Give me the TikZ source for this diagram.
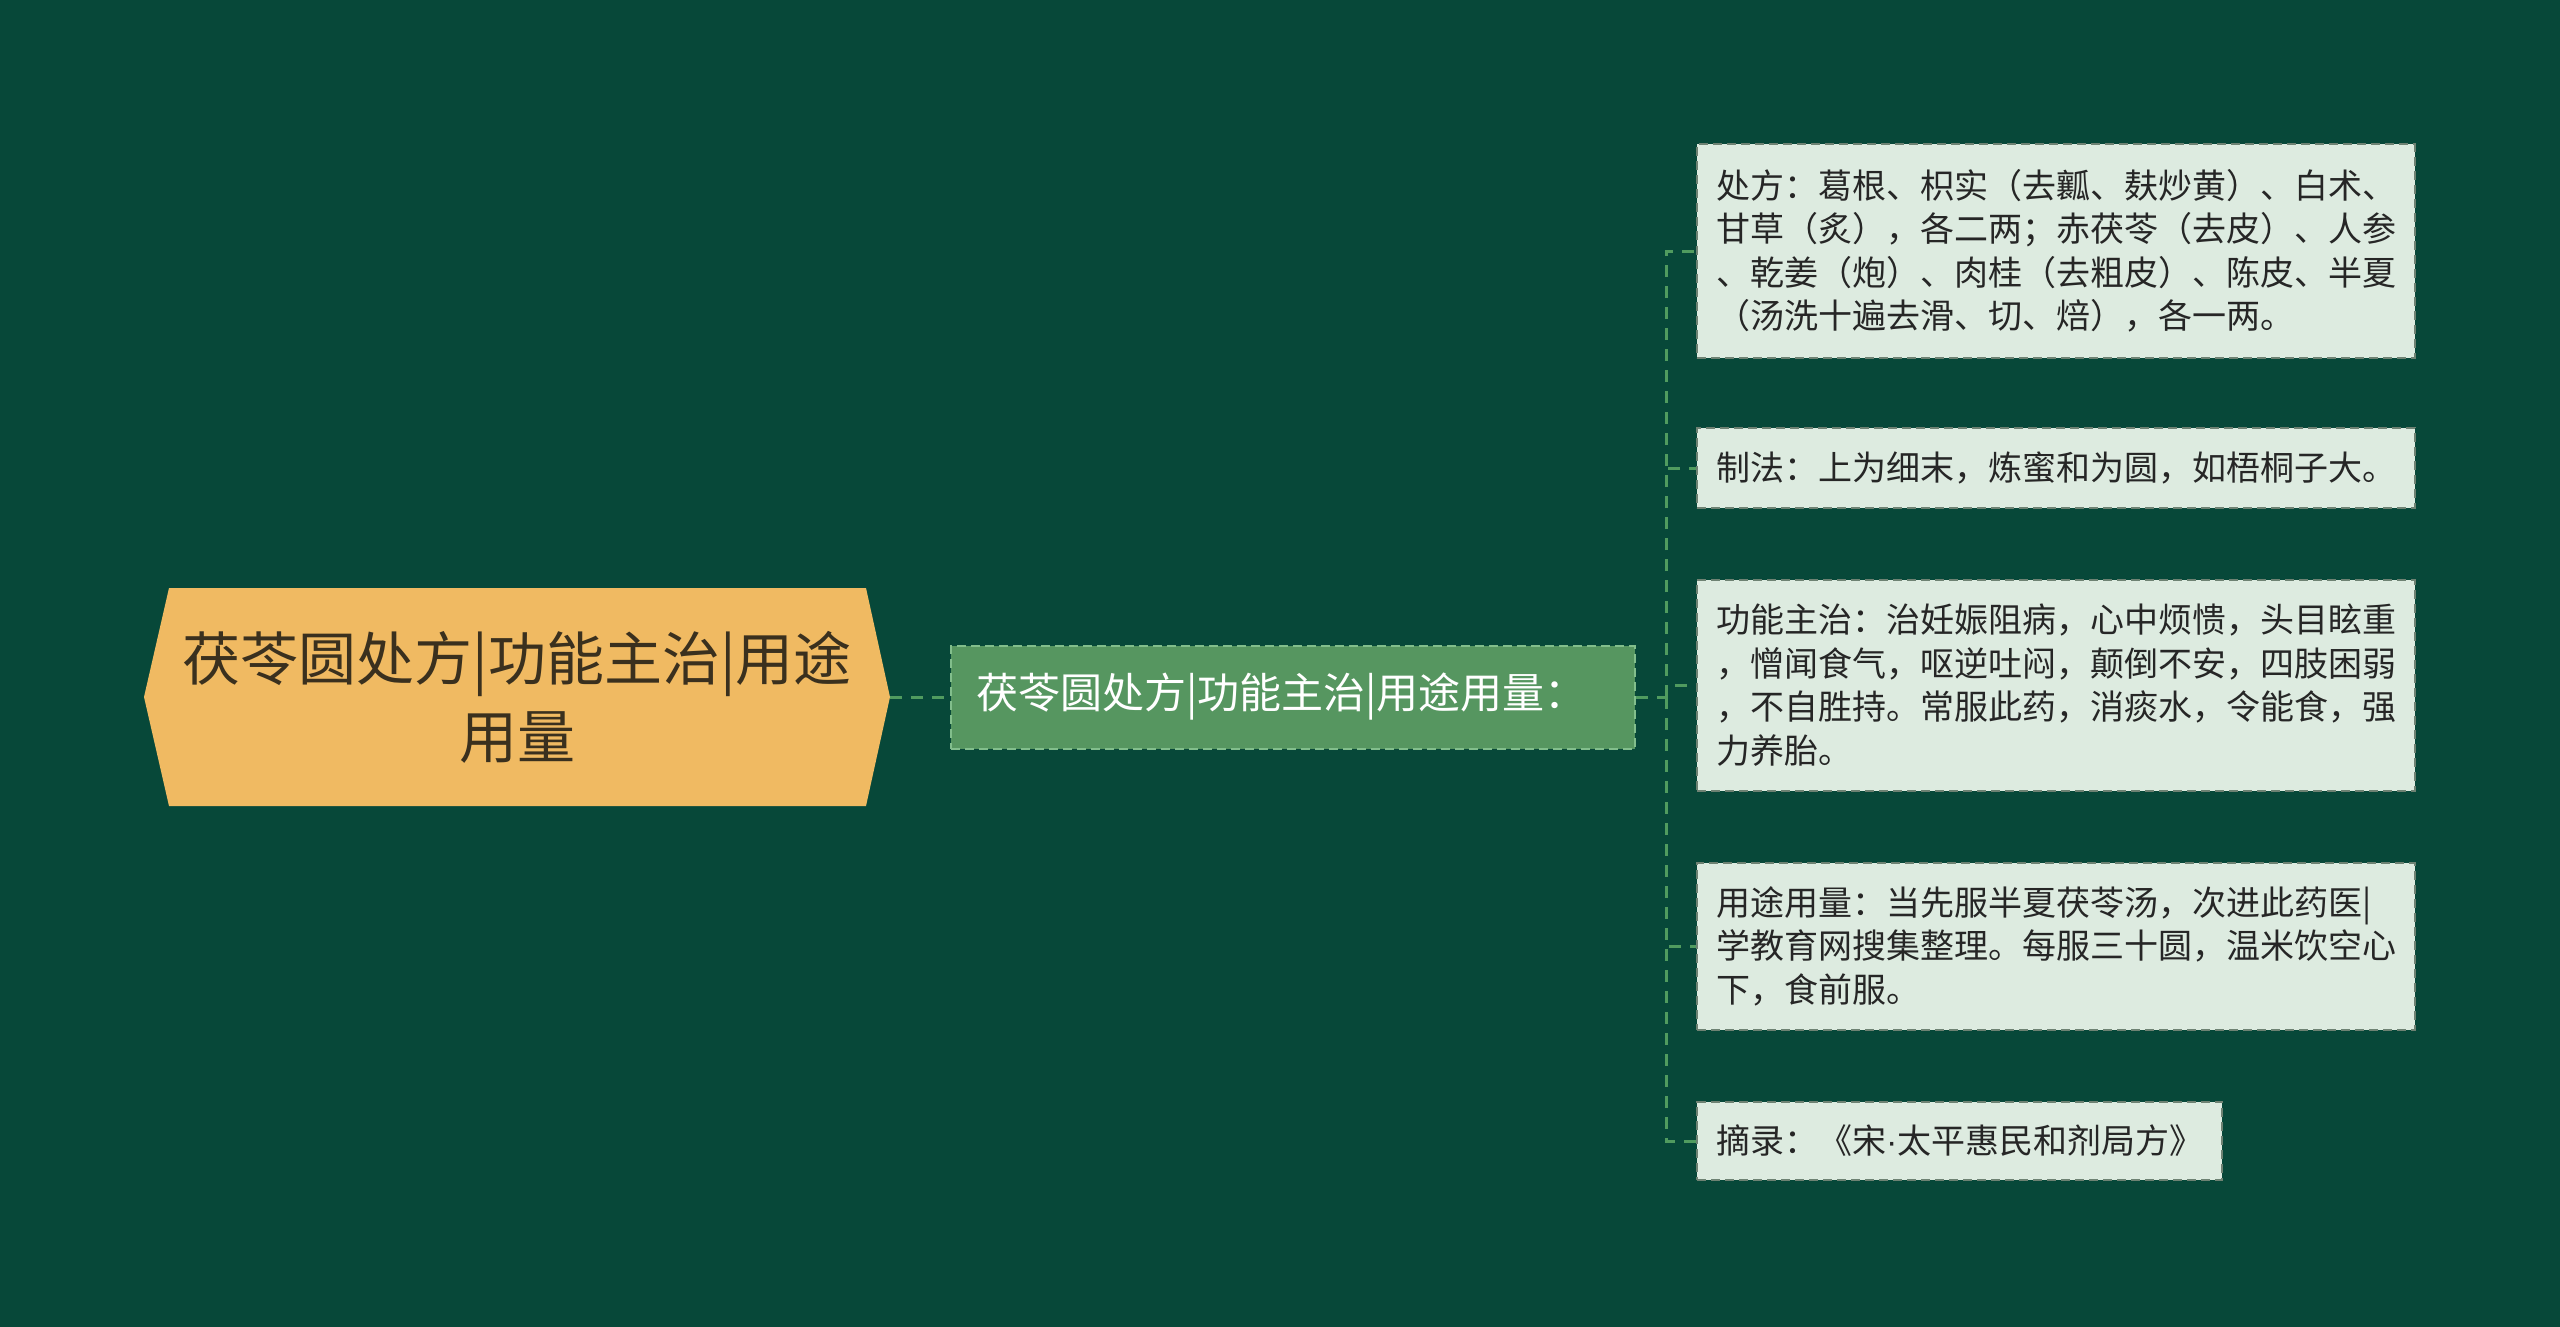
\documentclass[tikz,border=0pt]{standalone}
\usepackage{fontspec}
\setmainfont{Noto Sans CJK SC}
\newfontfamily\dotfont{Liberation Sans}
\definecolor{bg}{RGB}{7,72,57}
\definecolor{rootfill}{RGB}{240,186,98}
\definecolor{roottext}{RGB}{58,48,30}
\definecolor{midfill}{RGB}{86,150,96}
\definecolor{midline}{RGB}{130,190,140}
\definecolor{leaffill}{RGB}{221,235,224}
\definecolor{leafline}{RGB}{110,130,115}
\definecolor{linkc}{RGB}{80,155,95}
\begin{document}
\begin{tikzpicture}[x=1pt,y=-1pt,
 link/.style={draw=linkc,line width=3pt,dash pattern=on 12pt off 9pt},
 leaf/.style={anchor=west,fill=leaffill,draw=leafline,line width=2pt,dash pattern=on 9pt off 5pt,
  inner xsep=19pt,inner ysep=0pt,align=left,text=black!85,font=\fontsize{34pt}{43.5pt}\selectfont}]
\fill[bg](0,0)rectangle(2560,1327);
\useasboundingbox(0,0)rectangle(2560,1327);
\fill[rootfill](144,697)--(169,588)--(866,588)--(890,697)--(866,806)--(169,806)--cycle;
\node[minimum width=746pt,minimum height=218pt,align=center,text=roottext,font=\fontsize{58pt}{78pt}\selectfont](root)at(517,697){茯苓圆处方|功能主治|用途\\用量};
\node[anchor=west,minimum height=103pt,text width=634pt,inner xsep=25pt,fill=midfill,draw=midline,line width=2pt,dash pattern=on 9pt off 5pt,text=white,font=\fontsize{42pt}{50pt}\selectfont](mid)at(950,697){茯苓圆处方|功能主治|用途用量：};
\node[leaf,minimum height=213pt](l1)at(1696,251){处方：葛根、枳实（去瓤、麸炒黄）、白术、\\甘草（炙），各二两；赤茯苓（去皮）、人参\\、乾姜（炮）、肉桂（去粗皮）、陈皮、半夏\\（汤洗十遍去滑、切、焙），各一两。};
\node[leaf,minimum height=80pt](l2)at(1696,468){制法：上为细末，炼蜜和为圆，如梧桐子大。};
\node[leaf,minimum height=211pt](l3)at(1696,685){功能主治：治妊娠阻病，心中烦愦，头目眩重\\，憎闻食气，呕逆吐闷，颠倒不安，四肢困弱\\，不自胜持。常服此药，消痰水，令能食，强\\力养胎。};
\node[leaf,minimum height=167pt](l4)at(1696,946){用途用量：当先服半夏茯苓汤，次进此药医|\\学教育网搜集整理。每服三十圆，温米饮空心\\下，食前服。};
\node[leaf,minimum height=78pt](l5)at(1696,1141){摘录：《宋{\dotfont ·}太平惠民和剂局方》};
\coordinate(trunk)at(1666,697);
\draw[link](root.east)--(mid.west);
\draw[link](mid.east)--(trunk);
\draw[link](trunk)|-(l1.west);
\draw[link](trunk)|-(l2.west);
\draw[link](trunk)|-(l3.west);
\draw[link](trunk)|-(l4.west);
\draw[link](trunk)|-(l5.west);
\end{tikzpicture}
\end{document}
